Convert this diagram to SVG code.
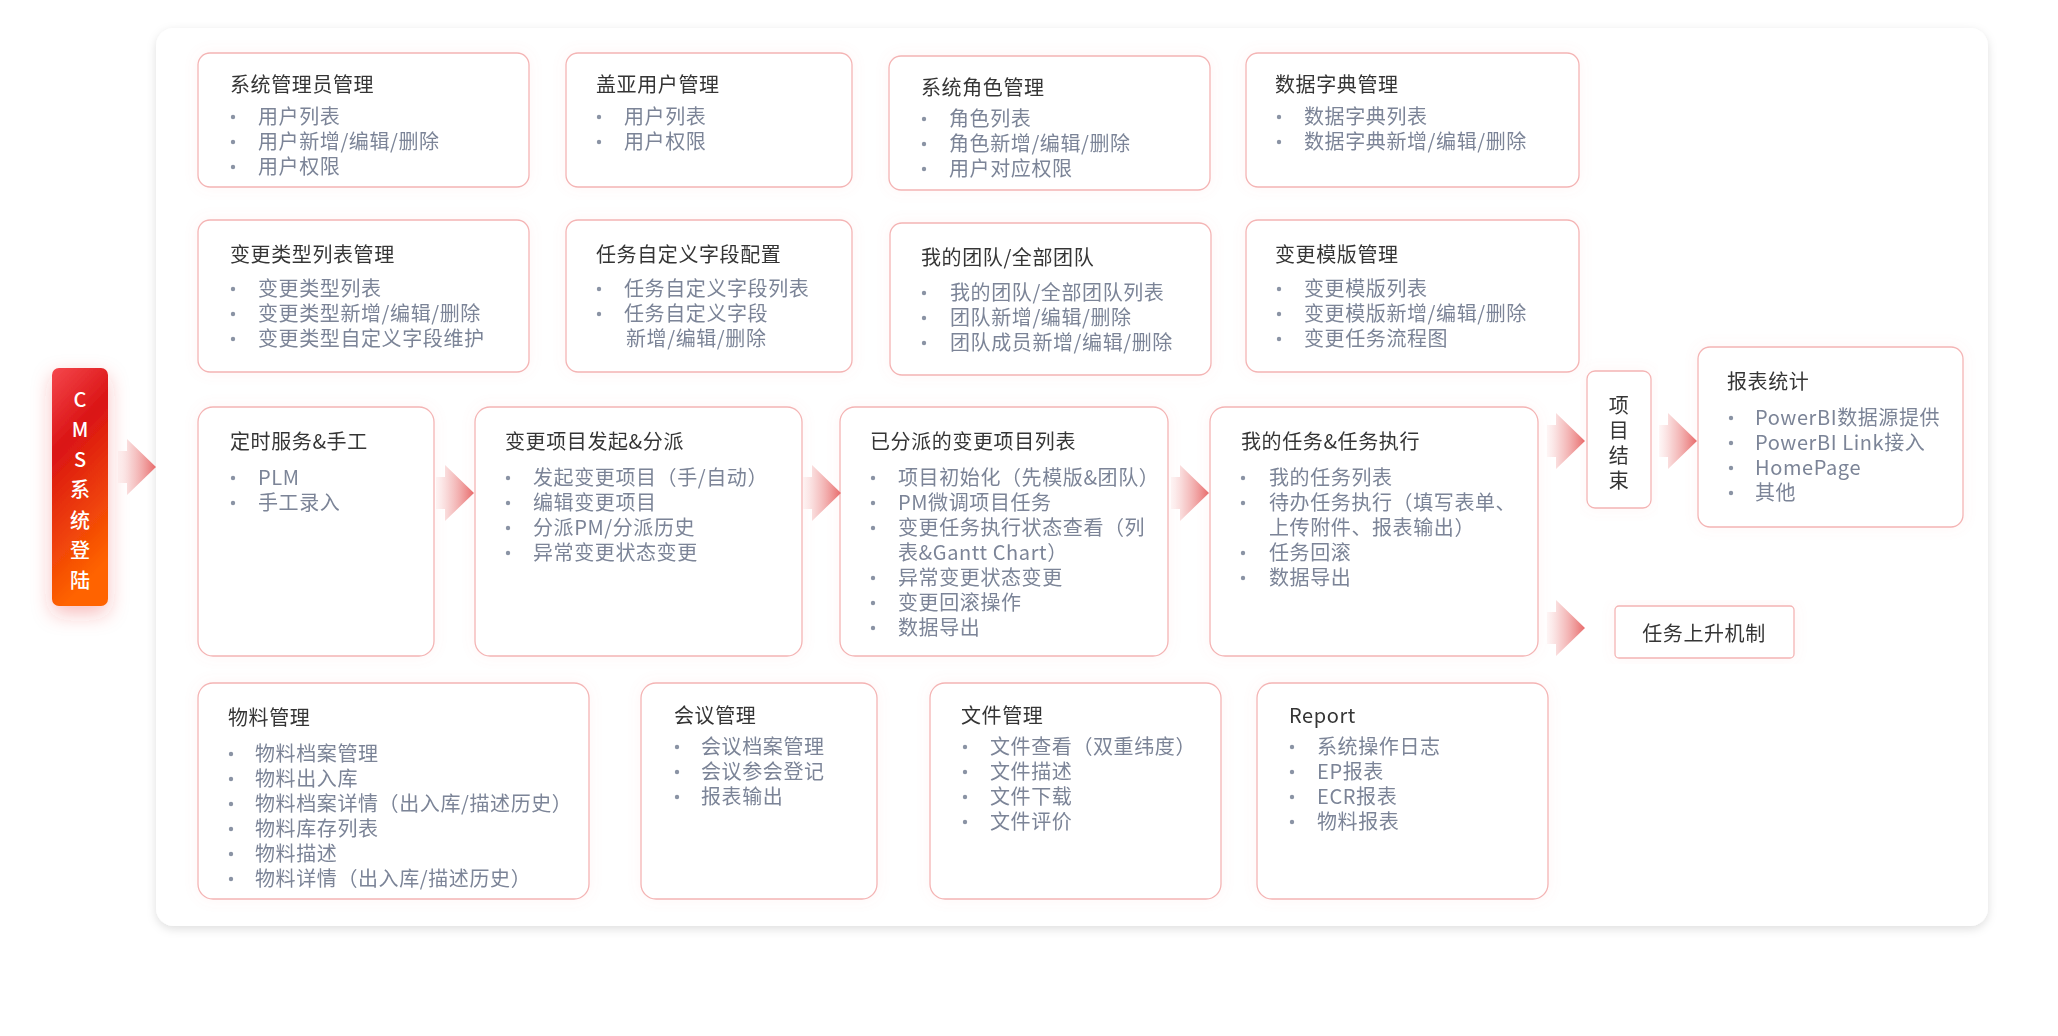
<svg xmlns="http://www.w3.org/2000/svg" width="2058" height="1036" viewBox="0 0 2058 1036">
<defs>
<style>
.box{fill:#ffffff;stroke:#f4b4b4;stroke-width:1.3}
.t{font-family:"Noto Sans CJK SC","Noto Sans",sans-serif;font-size:20px;letter-spacing:0.6px;fill:#353535}
.i{font-family:"Noto Sans CJK SC","Noto Sans",sans-serif;font-size:20px;letter-spacing:0.6px;fill:#7b8497}
.dot{fill:#8a93a4}
.cms{font-family:"Noto Sans CJK SC","Noto Sans",sans-serif;font-size:20px;font-weight:500;fill:#ffffff;text-anchor:middle}
.arr{fill:url(#ag)}
</style>
<linearGradient id="ag" x1="0" y1="0" x2="1" y2="0">
<stop offset="0" stop-color="#f7c5c5" stop-opacity="0.15"/>
<stop offset="0.35" stop-color="#f2b0b0" stop-opacity="0.6"/>
<stop offset="1" stop-color="#e86a6a"/>
</linearGradient>
<linearGradient id="cg" x1="0" y1="0" x2="0.25" y2="1">
<stop offset="0" stop-color="#f5474d"/>
<stop offset="0.35" stop-color="#da1414"/>
<stop offset="1" stop-color="#ff6400"/>
</linearGradient>
<filter id="ps" x="-5%" y="-5%" width="110%" height="115%">
<feDropShadow dx="0" dy="3" stdDeviation="5" flood-color="#000" flood-opacity="0.13"/>
</filter>
<filter id="bs" x="-10%" y="-10%" width="120%" height="120%">
<feDropShadow dx="0" dy="0" stdDeviation="7" flood-color="#f08080" flood-opacity="0.08"/>
</filter>
<filter id="cs" x="-60%" y="-20%" width="220%" height="140%">
<feDropShadow dx="0" dy="8" stdDeviation="10" flood-color="#e83030" flood-opacity="0.3"/>
</filter>
</defs>

<rect width="2058" height="1036" fill="#ffffff"/>
<rect id="panel" x="156" y="28" width="1832" height="898" rx="18" fill="#ffffff" filter="url(#ps)"/>

<g id="cms-login">
<rect x="52" y="368" width="56" height="238" rx="7" fill="url(#cg)" filter="url(#cs)"/>
<text class="cms" x="80" y="407">C</text>
<text class="cms" x="80" y="437">M</text>
<text class="cms" x="80" y="467">S</text>
<text class="cms" x="80" y="497">系</text>
<text class="cms" x="80" y="528">统</text>
<text class="cms" x="80" y="558">登</text>
<text class="cms" x="80" y="588">陆</text>
</g>

<g id="n-sysadmin" filter="url(#bs)">
<rect class="box" x="198" y="53" width="331" height="134" rx="12"/>
<text class="t" x="230" y="92">系统管理员管理</text>
<circle class="dot" cx="233" cy="117" r="2.2"/><text class="i" x="258" y="124">用户列表</text>
<circle class="dot" cx="233" cy="142" r="2.2"/><text class="i" x="258" y="149">用户新增/编辑/删除</text>
<circle class="dot" cx="233" cy="167" r="2.2"/><text class="i" x="258" y="174">用户权限</text>
</g>

<g id="n-gaia" filter="url(#bs)">
<rect class="box" x="566" y="53" width="286" height="134" rx="12"/>
<text class="t" x="596" y="92">盖亚用户管理</text>
<circle class="dot" cx="599" cy="117" r="2.2"/><text class="i" x="624" y="124">用户列表</text>
<circle class="dot" cx="599" cy="142" r="2.2"/><text class="i" x="624" y="149">用户权限</text>
</g>

<g id="n-role" filter="url(#bs)">
<rect class="box" x="889" y="56" width="321" height="134" rx="12"/>
<text class="t" x="921" y="95">系统角色管理</text>
<circle class="dot" cx="924" cy="119" r="2.2"/><text class="i" x="949" y="126">角色列表</text>
<circle class="dot" cx="924" cy="144" r="2.2"/><text class="i" x="949" y="151">角色新增/编辑/删除</text>
<circle class="dot" cx="924" cy="169" r="2.2"/><text class="i" x="949" y="176">用户对应权限</text>
</g>

<g id="n-dict" filter="url(#bs)">
<rect class="box" x="1246" y="53" width="333" height="134" rx="12"/>
<text class="t" x="1275" y="92">数据字典管理</text>
<circle class="dot" cx="1279" cy="117" r="2.2"/><text class="i" x="1304" y="124">数据字典列表</text>
<circle class="dot" cx="1279" cy="142" r="2.2"/><text class="i" x="1304" y="149">数据字典新增/编辑/删除</text>
</g>

<g id="n-changetype" filter="url(#bs)">
<rect class="box" x="198" y="220" width="331" height="152" rx="12"/>
<text class="t" x="230" y="262">变更类型列表管理</text>
<circle class="dot" cx="233" cy="289" r="2.2"/><text class="i" x="258" y="296">变更类型列表</text>
<circle class="dot" cx="233" cy="314" r="2.2"/><text class="i" x="258" y="321">变更类型新增/编辑/删除</text>
<circle class="dot" cx="233" cy="339" r="2.2"/><text class="i" x="258" y="346">变更类型自定义字段维护</text>
</g>

<g id="n-taskfield" filter="url(#bs)">
<rect class="box" x="566" y="220" width="286" height="152" rx="12"/>
<text class="t" x="596" y="262">任务自定义字段配置</text>
<circle class="dot" cx="599" cy="289" r="2.2"/><text class="i" x="624" y="296">任务自定义字段列表</text>
<circle class="dot" cx="599" cy="314" r="2.2"/><text class="i" x="624" y="321">任务自定义字段</text>
<text class="i" x="626" y="346">新增/编辑/删除</text>
</g>

<g id="n-team" filter="url(#bs)">
<rect class="box" x="890" y="223" width="321" height="152" rx="12"/>
<text class="t" x="921" y="265">我的团队/全部团队</text>
<circle class="dot" cx="924" cy="293" r="2.2"/><text class="i" x="950" y="300">我的团队/全部团队列表</text>
<circle class="dot" cx="924" cy="318" r="2.2"/><text class="i" x="950" y="325">团队新增/编辑/删除</text>
<circle class="dot" cx="924" cy="343" r="2.2"/><text class="i" x="950" y="350">团队成员新增/编辑/删除</text>
</g>

<g id="n-template" filter="url(#bs)">
<rect class="box" x="1246" y="220" width="333" height="152" rx="12"/>
<text class="t" x="1275" y="262">变更模版管理</text>
<circle class="dot" cx="1279" cy="289" r="2.2"/><text class="i" x="1304" y="296">变更模版列表</text>
<circle class="dot" cx="1279" cy="314" r="2.2"/><text class="i" x="1304" y="321">变更模版新增/编辑/删除</text>
<circle class="dot" cx="1279" cy="339" r="2.2"/><text class="i" x="1304" y="346">变更任务流程图</text>
</g>

<g id="n-timer" filter="url(#bs)">
<rect class="box" x="198" y="407" width="236" height="249" rx="15"/>
<text class="t" x="230" y="449">定时服务&amp;手工</text>
<circle class="dot" cx="233" cy="478" r="2.2"/><text class="i" x="258" y="485">PLM</text>
<circle class="dot" cx="233" cy="503" r="2.2"/><text class="i" x="258" y="510">手工录入</text>
</g>

<g id="n-initiate" filter="url(#bs)">
<rect class="box" x="475" y="407" width="327" height="249" rx="15"/>
<text class="t" x="505" y="449">变更项目发起&amp;分派</text>
<circle class="dot" cx="508" cy="478" r="2.2"/><text class="i" x="533" y="485">发起变更项目（手/自动）</text>
<circle class="dot" cx="508" cy="503" r="2.2"/><text class="i" x="533" y="510">编辑变更项目</text>
<circle class="dot" cx="508" cy="528" r="2.2"/><text class="i" x="533" y="535">分派PM/分派历史</text>
<circle class="dot" cx="508" cy="553" r="2.2"/><text class="i" x="533" y="560">异常变更状态变更</text>
</g>

<g id="n-assigned" filter="url(#bs)">
<rect class="box" x="840" y="407" width="328" height="249" rx="15"/>
<text class="t" x="870" y="449">已分派的变更项目列表</text>
<circle class="dot" cx="873" cy="478" r="2.2"/><text class="i" x="898" y="485">项目初始化（先模版&amp;团队）</text>
<circle class="dot" cx="873" cy="503" r="2.2"/><text class="i" x="898" y="510">PM微调项目任务</text>
<circle class="dot" cx="873" cy="528" r="2.2"/><text class="i" x="898" y="535">变更任务执行状态查看（列</text>
<text class="i" x="898" y="560">表&amp;Gantt Chart）</text>
<circle class="dot" cx="873" cy="578" r="2.2"/><text class="i" x="898" y="585">异常变更状态变更</text>
<circle class="dot" cx="873" cy="603" r="2.2"/><text class="i" x="898" y="610">变更回滚操作</text>
<circle class="dot" cx="873" cy="628" r="2.2"/><text class="i" x="898" y="635">数据导出</text>
</g>

<g id="n-mytask" filter="url(#bs)">
<rect class="box" x="1210" y="407" width="328" height="249" rx="15"/>
<text class="t" x="1241" y="449">我的任务&amp;任务执行</text>
<circle class="dot" cx="1243" cy="478" r="2.2"/><text class="i" x="1269" y="485">我的任务列表</text>
<circle class="dot" cx="1243" cy="503" r="2.2"/><text class="i" x="1269" y="510">待办任务执行（填写表单、</text>
<text class="i" x="1269" y="535">上传附件、报表输出）</text>
<circle class="dot" cx="1243" cy="553" r="2.2"/><text class="i" x="1269" y="560">任务回滚</text>
<circle class="dot" cx="1243" cy="578" r="2.2"/><text class="i" x="1269" y="585">数据导出</text>
</g>

<g id="n-end" filter="url(#bs)">
<rect class="box" x="1587" y="371" width="64" height="137" rx="8"/>
<text class="t" x="1619" y="413" text-anchor="middle">项</text>
<text class="t" x="1619" y="438" text-anchor="middle">目</text>
<text class="t" x="1619" y="463" text-anchor="middle">结</text>
<text class="t" x="1619" y="488" text-anchor="middle">束</text>
</g>

<g id="n-report-stat" filter="url(#bs)">
<rect class="box" x="1698" y="347" width="265" height="180" rx="12"/>
<text class="t" x="1727" y="389">报表统计</text>
<circle class="dot" cx="1731" cy="418" r="2.2"/><text class="i" x="1755" y="425">PowerBI数据源提供</text>
<circle class="dot" cx="1731" cy="443" r="2.2"/><text class="i" x="1755" y="450">PowerBI Link接入</text>
<circle class="dot" cx="1731" cy="468" r="2.2"/><text class="i" x="1755" y="475">HomePage</text>
<circle class="dot" cx="1731" cy="493" r="2.2"/><text class="i" x="1755" y="500">其他</text>
</g>

<g id="n-escalate" filter="url(#bs)">
<rect class="box" x="1615" y="606" width="179" height="52" rx="4"/>
<text class="t" x="1704" y="641" text-anchor="middle">任务上升机制</text>
</g>

<g id="n-material" filter="url(#bs)">
<rect class="box" x="198" y="683" width="391" height="216" rx="15"/>
<text class="t" x="228" y="725">物料管理</text>
<circle class="dot" cx="231" cy="754" r="2.2"/><text class="i" x="255" y="761">物料档案管理</text>
<circle class="dot" cx="231" cy="779" r="2.2"/><text class="i" x="255" y="786">物料出入库</text>
<circle class="dot" cx="231" cy="804" r="2.2"/><text class="i" x="255" y="811">物料档案详情（出入库/描述历史）</text>
<circle class="dot" cx="231" cy="829" r="2.2"/><text class="i" x="255" y="836">物料库存列表</text>
<circle class="dot" cx="231" cy="854" r="2.2"/><text class="i" x="255" y="861">物料描述</text>
<circle class="dot" cx="231" cy="879" r="2.2"/><text class="i" x="255" y="886">物料详情（出入库/描述历史）</text>
</g>

<g id="n-meeting" filter="url(#bs)">
<rect class="box" x="641" y="683" width="236" height="216" rx="15"/>
<text class="t" x="674" y="723">会议管理</text>
<circle class="dot" cx="677" cy="747" r="2.2"/><text class="i" x="701" y="754">会议档案管理</text>
<circle class="dot" cx="677" cy="772" r="2.2"/><text class="i" x="701" y="779">会议参会登记</text>
<circle class="dot" cx="677" cy="797" r="2.2"/><text class="i" x="701" y="804">报表输出</text>
</g>

<g id="n-file" filter="url(#bs)">
<rect class="box" x="930" y="683" width="291" height="216" rx="15"/>
<text class="t" x="961" y="723">文件管理</text>
<circle class="dot" cx="965" cy="747" r="2.2"/><text class="i" x="990" y="754">文件查看（双重纬度）</text>
<circle class="dot" cx="965" cy="772" r="2.2"/><text class="i" x="990" y="779">文件描述</text>
<circle class="dot" cx="965" cy="797" r="2.2"/><text class="i" x="990" y="804">文件下载</text>
<circle class="dot" cx="965" cy="822" r="2.2"/><text class="i" x="990" y="829">文件评价</text>
</g>

<g id="n-report" filter="url(#bs)">
<rect class="box" x="1257" y="683" width="291" height="216" rx="15"/>
<text class="t" x="1289" y="723">Report</text>
<circle class="dot" cx="1292" cy="747" r="2.2"/><text class="i" x="1317" y="754">系统操作日志</text>
<circle class="dot" cx="1292" cy="772" r="2.2"/><text class="i" x="1317" y="779">EP报表</text>
<circle class="dot" cx="1292" cy="797" r="2.2"/><text class="i" x="1317" y="804">ECR报表</text>
<circle class="dot" cx="1292" cy="822" r="2.2"/><text class="i" x="1317" y="829">物料报表</text>
</g>

<g id="connectors">
<path class="arr" transform="translate(156,467)" d="M-38,-16 L-29,-16 L-29,-28 L0,0 L-29,28 L-29,16 L-38,16 Z"/>
<path class="arr" transform="translate(474,493)" d="M-38,-16 L-29,-16 L-29,-28 L0,0 L-29,28 L-29,16 L-38,16 Z"/>
<path class="arr" transform="translate(841,493)" d="M-38,-16 L-29,-16 L-29,-28 L0,0 L-29,28 L-29,16 L-38,16 Z"/>
<path class="arr" transform="translate(1209,493)" d="M-38,-16 L-29,-16 L-29,-28 L0,0 L-29,28 L-29,16 L-38,16 Z"/>
<path class="arr" transform="translate(1585,441)" d="M-38,-16 L-29,-16 L-29,-28 L0,0 L-29,28 L-29,16 L-38,16 Z"/>
<path class="arr" transform="translate(1697,441)" d="M-38,-16 L-29,-16 L-29,-28 L0,0 L-29,28 L-29,16 L-38,16 Z"/>
<path class="arr" transform="translate(1585,628)" d="M-38,-16 L-29,-16 L-29,-28 L0,0 L-29,28 L-29,16 L-38,16 Z"/>
</g>
</svg>
